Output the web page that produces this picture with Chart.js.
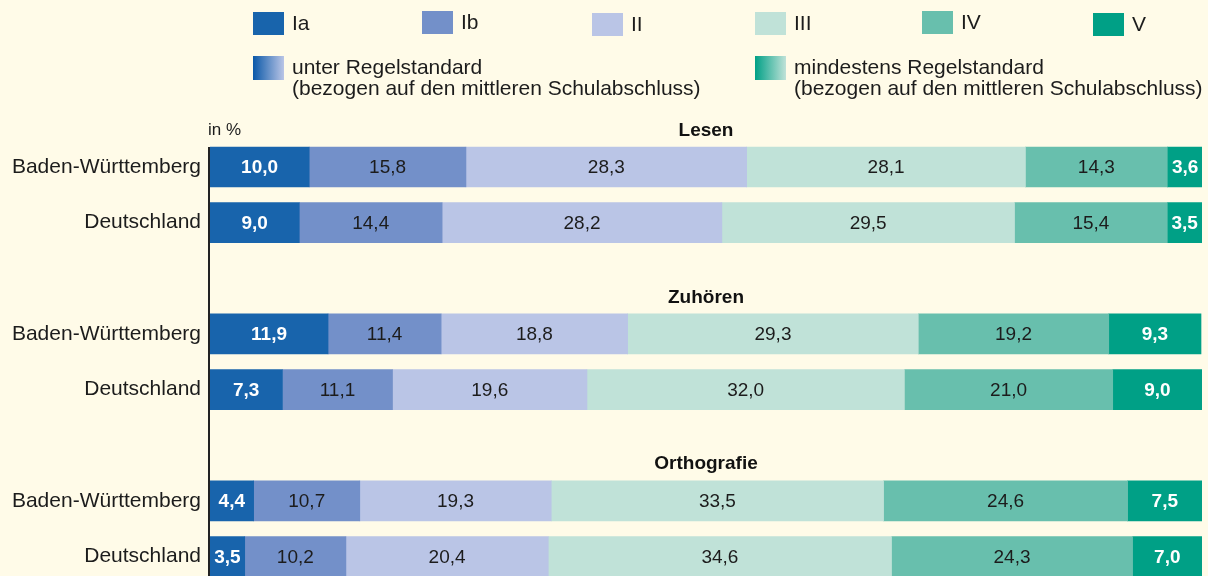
<!DOCTYPE html>
<html><head><meta charset="utf-8">
<script src="https://cdn.jsdelivr.net/npm/chart.js@4"></script>
<style>html,body{margin:0;padding:0;background:#fffbe8;overflow:hidden;width:1208px;height:576px}canvas{display:block}</style>
</head><body><canvas id="c" width="1208" height="576"></canvas>
<script>
const domains = ['Lesen', 'Zuhören', 'Orthografie'];
const regions = ['Baden-Württemberg', 'Deutschland'];
const levelNames = ['Ia', 'Ib', 'II', 'III', 'IV', 'V'];
const levelIa  = [10.0,  9.0, 11.9,  7.3,  4.4,  3.5];
const levelIb  = [15.8, 14.4, 11.4, 11.1, 10.7, 10.2];
const levelII  = [28.3, 28.2, 18.8, 19.6, 19.3, 20.4];
const levelIII = [28.1, 29.5, 29.3, 32.0, 33.5, 34.6];
const levelIV  = [14.3, 15.4, 19.2, 21.0, 24.6, 24.3];
const levelV   = [ 3.6,  3.5,  9.3,  9.0,  7.5,  7.0];
const series = [levelIa, levelIb, levelII, levelIII, levelIV, levelV];
const colors = ['#1864ac', '#7390c9', '#bac5e6', '#c0e2d8', '#68bfad', '#00a086'];
const groupLabels = ['unter Regelstandard', '(bezogen auf den mittleren Schulabschluss)', 'mindestens Regelstandard', '(bezogen auf den mittleren Schulabschluss)'];

const FONT = '"Liberation Sans", Arial, sans-serif';
const TXT = '#1c1c1c';

// slot layout: one header slot followed by one slot per region, per domain
const slotsPerDomain = regions.length + 1;
const rowPos = [], rowLabel = [];
domains.forEach((d, di) => regions.forEach((r, ri) => { rowPos.push(di * slotsPerDomain + ri + 1); rowLabel.push(r); }));
const headerPos = domains.map((d, di) => di * slotsPerDomain);

const datasets = series.map((vals, i) => ({
  label: levelNames[i],
  data: vals.map((v, k) => ({ x: v, y: rowPos[k] })),
  backgroundColor: colors[i], borderWidth: 0, barThickness: 40
}));

const fmt = v => v.toFixed(1).replace('.', ',');

const overlay = {
  id: 'overlay',
  afterDatasetsDraw(chart) {
    const ctx = chart.ctx;
    const ys = chart.scales.y;
    const ca = chart.chartArea;
    ctx.save();
    // data labels
    chart.data.datasets.forEach((ds, i) => {
      const meta = chart.getDatasetMeta(i);
      meta.data.forEach((el, j) => {
        const v = ds.data[j].x;
        const bold = (i === 0 || i === 5);
        ctx.font = (bold ? 'bold ' : '') + '19px ' + FONT;
        ctx.fillStyle = bold ? '#ffffff' : TXT;
        ctx.textAlign = 'center';
        ctx.textBaseline = 'middle';
        ctx.fillText(fmt(v), (el.x + el.base) / 2, el.y + 1);
      });
    });
    // vertical axis line
    ctx.strokeStyle = '#222';
    ctx.lineWidth = 2;
    ctx.beginPath();
    ctx.moveTo(ca.left - 1, ys.getPixelForValue(rowPos[0]) - 20);
    ctx.lineTo(ca.left - 1, chart.height);
    ctx.stroke();
    // domain headers
    ctx.font = 'bold 19px ' + FONT;
    ctx.fillStyle = '#111';
    ctx.textAlign = 'center';
    ctx.textBaseline = 'middle';
    domains.forEach((d, di) => {
      ctx.fillText(d, (ca.left + ca.right) / 2, ys.getPixelForValue(headerPos[di]) + 19);
    });
    // unit
    ctx.font = '17px ' + FONT;
    ctx.textAlign = 'left';
    ctx.fillStyle = TXT;
    ctx.fillText('in %', 208, 130);
    // legend
    const boxX = [253, 422, 592, 755, 922, 1093];
    const boxY = [12, 11, 13, 12, 11, 13];
    ctx.font = '21px ' + FONT;
    levelNames.forEach((n, i) => {
      ctx.fillStyle = colors[i];
      ctx.fillRect(boxX[i], boxY[i], 31, 23);
      ctx.fillStyle = TXT;
      ctx.textBaseline = 'middle';
      ctx.fillText(n, boxX[i] + 39, boxY[i] + 12);
    });
    const g1 = ctx.createLinearGradient(253, 0, 284, 0);
    g1.addColorStop(0, '#0a58a8'); g1.addColorStop(1, '#bac5e6');
    ctx.fillStyle = g1; ctx.fillRect(253, 56, 31, 24);
    const g2 = ctx.createLinearGradient(755, 0, 786, 0);
    g2.addColorStop(0, '#00a086'); g2.addColorStop(1, '#c0e2d8');
    ctx.fillStyle = g2; ctx.fillRect(755, 56, 31, 24);
    ctx.fillStyle = TXT;
    ctx.fillText(groupLabels[0], 292, 68);
    ctx.fillText(groupLabels[1], 292, 89);
    ctx.fillText(groupLabels[2], 794, 68);
    ctx.fillText(groupLabels[3], 794, 89);
    ctx.restore();
  }
};

new Chart(document.getElementById('c'), {
  type: 'bar',
  data: { datasets },
  options: {
    indexAxis: 'y',
    responsive: false,
    animation: false,
    layout: { padding: { top: 83.5, bottom: 0, right: 6, left: 0 } },
    plugins: { legend: { display: false }, tooltip: { enabled: false } },
    scales: {
      x: { type: 'linear', stacked: true, display: false, min: 0, max: 100 },
      y: {
        type: 'linear',
        stacked: true,
        reverse: true,
        offset: false,
        min: -0.5,
        max: 8.35,
        grid: { display: false, drawTicks: false, offset: false },
        border: { display: false },
        afterFit(scale) { scale.width = 210; scale.paddingTop = 0; scale.paddingBottom = 0; },
        afterBuildTicks(scale) { scale.ticks = rowPos.map(v => ({ value: v })); },
        ticks: {
          padding: 9, color: TXT, font: { family: FONT, size: 21 },
          autoSkip: false,
          callback: (v) => { const k = rowPos.indexOf(v); return k >= 0 ? rowLabel[k] : ''; }
        }
      }
    }
  },
  plugins: [overlay]
});
</script></body></html>
